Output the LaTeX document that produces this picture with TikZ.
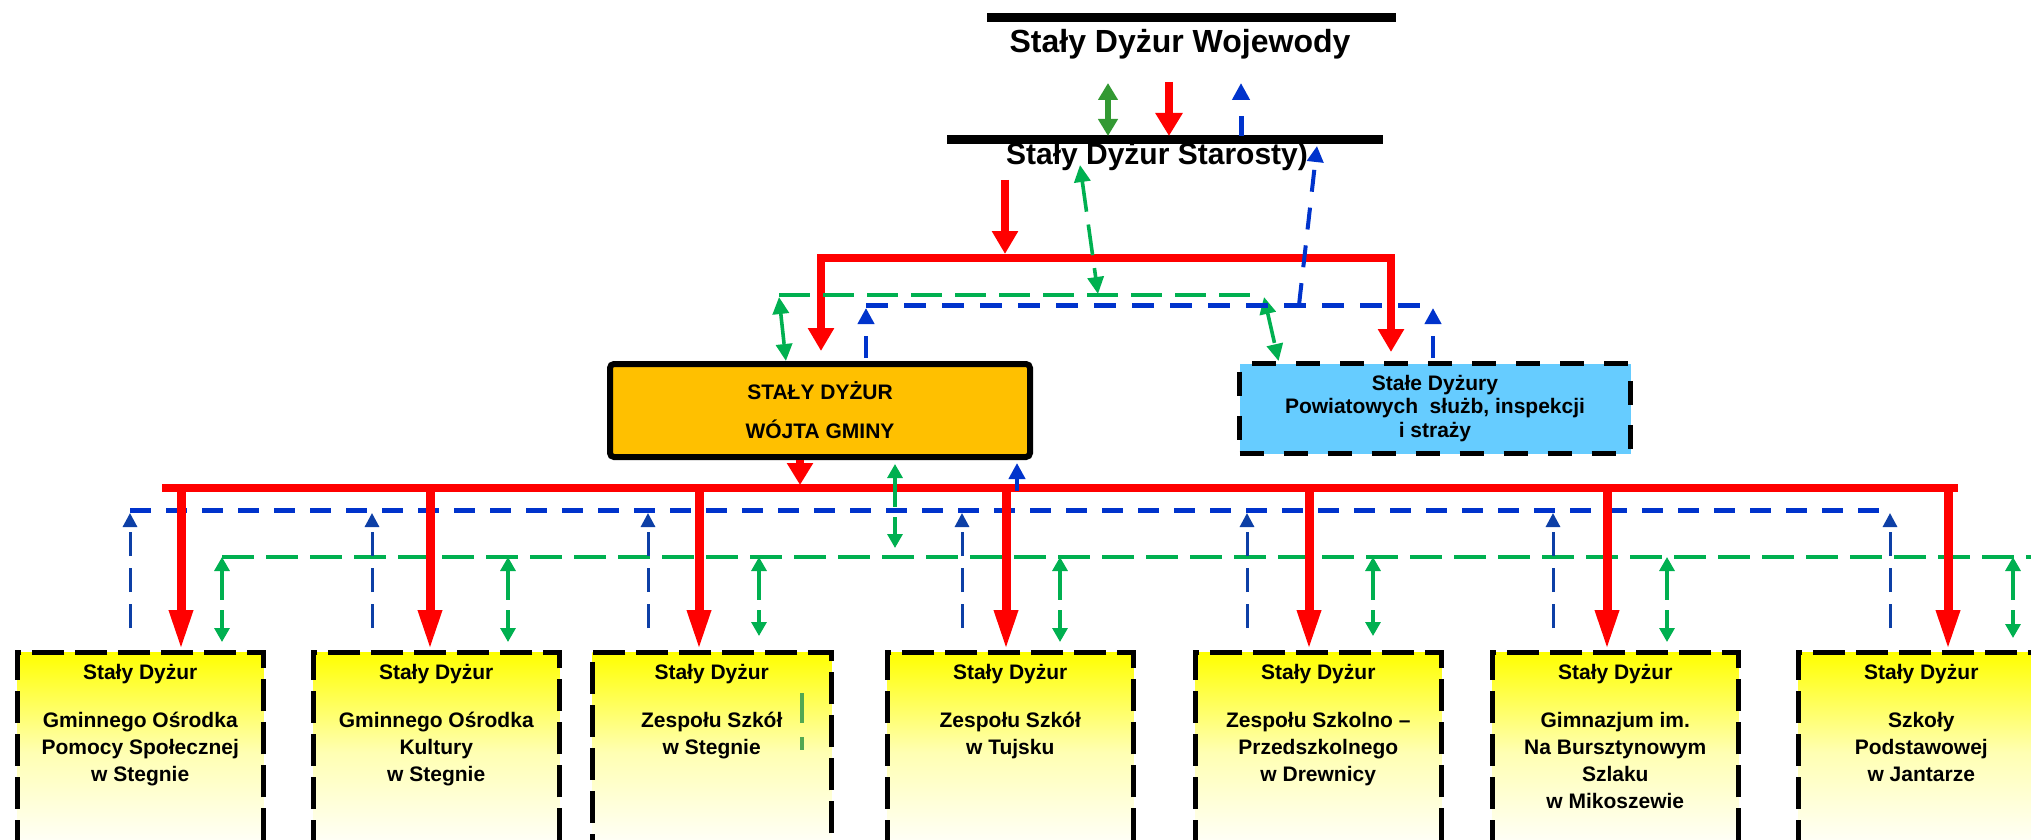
\documentclass[tikz,border=0pt]{standalone}
\usepackage{fontspec}
\setmainfont{Liberation Sans}
\usepackage{tikz}
\usetikzlibrary{
    arrows.meta,
    calc,
    positioning
}
\definecolor{rline}{HTML}{FF0000}
\definecolor{gline}{HTML}{00B050}
\definecolor{gdark}{HTML}{339933}
\definecolor{bline}{HTML}{0033CC}
\definecolor{bdark}{HTML}{0D3FA6}
\definecolor{wfill}{HTML}{FFC000}
\definecolor{pfill}{HTML}{66CCFF}
\tikzset{
    bar/.style={line width=4.5pt},
    head/.style={anchor=base, inner sep=0pt, font=\fontsize{16pt}{19pt}\selectfont\bfseries},
    txt/.style={align=center, inner sep=0pt, font=\fontsize{10.5pt}{13.5pt}\selectfont\bfseries},
    unit/.style={draw, line width=2.25pt, dash pattern=on 16pt off 5.5pt,
        top color=yellow, bottom color=white, middle color=yellow!30,
        anchor=north west, minimum width=123pt, minimum height=100pt},
    redarr/.style={draw=rline, line width=4.5pt, -{Triangle[length=20pt, width=11pt]}},
    redmid/.style={draw=rline, line width=4pt, -{Triangle[length=11.5pt, width=12.5pt]}},
    bluebus/.style={draw=bline, line width=2.5pt, dash pattern=on 10.5pt off 7.5pt},
    bluemid/.style={draw=bline, line width=2pt, dash pattern=on 11pt off 8pt, -{Triangle[length=8pt, width=8pt]}},
    bluearr/.style={draw=bdark, line width=1.5pt, dash pattern=on 12pt off 6pt,
        shorten <=11pt, shorten >=1.5pt, -{Triangle[length=7pt, width=7pt]}},
    greenbus/.style={draw=gline, line width=1.7pt, dash pattern=on 16pt off 6pt},
    greenmid/.style={draw=gline, line width=1.8pt, dash pattern=on 15.5pt off 6.5pt,
        {Triangle[length=8.5pt, width=8pt]}-{Triangle[length=8.5pt, width=8pt]}},
    greenarr/.style={draw=gline, line width=1.6pt, dash pattern=on 15pt off 5pt, shorten >=4pt,
        {Triangle[length=7pt, width=7.5pt]}-{Triangle[length=7pt, width=7.5pt]}}
}
\begin{document}
\begin{tikzpicture}[x=0.5pt, y=-0.5pt]
\clip (0,0) rectangle (2031,840);
% wojewoda and starosta
\draw[bar] (987,18) -- (1396,18);
\node[head] (woj) at (1180,53) {Stały Dyżur Wojewody};
\draw[bar] (947,140) -- (1383,140);
\node[head, font=\fontsize{15pt}{18pt}\selectfont\bfseries] (star) at (1157,164) {Stały Dyżur Starosty)};
\coordinate (gw) at (1108,83);
\coordinate (rw) at (1169,82);
\coordinate (bw) at (1241,83);
\coordinate (sb) at (0,136);
\draw[draw=gdark, line width=3pt, {Triangle[length=8.5pt, width=9.5pt]}-{Triangle[length=8.5pt, width=9.5pt]}] (gw) -- (gw |- sb);
\draw[redmid, -{Triangle[length=11.5pt, width=13pt]}] (rw) -- (rw |- sb);
\draw[draw=bline, line width=2.5pt, dash pattern=on 10pt off 8.5pt, -{Triangle[length=8.5pt, width=8.5pt]}] (bw |- sb) -- (bw);

% gmina and powiat
\node[draw, line width=3pt, rounded corners=2pt, fill=wfill, minimum width=210pt, minimum height=46.5pt,
    align=center, font=\fontsize{10.5pt}{19.5pt}\selectfont\bfseries] (wojt) at (820,410.5) {STAŁY DYŻUR\\WÓJTA GMINY};
\node[draw, line width=2.5pt, dash pattern=on 12pt off 10pt, fill=pfill, minimum width=195.5pt, minimum height=45pt,
    align=center, font=\fontsize{10.5pt}{11.75pt}\selectfont\bfseries] (powiat) at (1435,408.5) {Stałe Dyżury\\Powiatowych\ \ służb, inspekcji\\i straży};
\coordinate (rs) at (1005,180);
\coordinate (rl) at (821,258);
\coordinate (rr) at (1391,258);
\draw[redmid, shorten >=2pt] (rs) -- (rs |- rl);
\draw[redmid, {Triangle[length=11.5pt, width=12.5pt]}-{Triangle[length=11.5pt, width=12.5pt]}, shorten <=5pt, shorten >=4.5pt]
    (wojt.north -| rl) -- (rl) -- (rr) -- (powiat.north -| rr);
\coordinate (gs) at (1080,165);
\coordinate (gj) at (1098,294);
\coordinate (gl) at (779,295);
\coordinate (gr) at (1252,295);
\draw[greenbus, line width=2pt, dash pattern=on 15.5pt off 6.5pt] (gl) -- (gr);
\draw[greenmid] (gs) -- (gj);
\draw[greenmid] ([yshift=-1pt]gl) -- ($(wojt.north west)!0.42!(wojt.north east)$);
\draw[greenmid] ([shift={(12,2)}]gr) -- ($(powiat.north west)!0.105!(powiat.north east)$);
\coordinate (bs) at (1317,146);
\coordinate (bj) at (1299,305);
\coordinate (bl) at (866,305);
\coordinate (br) at (1433,305);
\draw[bluebus, dash pattern=on 11pt off 8pt] (bl) -- (br);
\draw[bluemid] (bj) -- (bs);
\draw[bluemid, shorten <=1.5pt, shorten >=1.5pt] (wojt.north -| bl) -- (bl);
\draw[bluemid, shorten <=1.5pt, shorten >=1.5pt] (powiat.north -| br) -- (br);

% buses to the units
\coordinate (ub1) at (130,510);
\coordinate (ub2) at (1890,510);
\coordinate (gb1) at (222,557);
\coordinate (gb2) at (2035,557);
\coordinate (rb1) at (162,488);
\coordinate (rb2) at (1958,488);
\draw[bluebus] (ub1) -- (ub2);
\draw[greenbus] (gb1) -- (gb2);
\draw[draw=rline, line width=4pt] (rb1) -- (rb2);
\coordinate (r0) at (800,488);
\coordinate (g0) at (895,557);
\coordinate (u0) at (1017,491);
\draw[redmid, -{Triangle[length=11pt, width=12.5pt]}, shorten >=1.5pt] (wojt.south -| r0) -- (r0);
\draw[greenarr, shorten <=2pt, shorten >=4.5pt] (wojt.south -| g0) -- (g0);
\draw[bluemid, shorten >=1.5pt] (u0) -- (wojt.south -| u0);

% units
\node[unit] (b1) at (15,650) {};
\node[unit] (b2) at (311,650) {};
\node[unit, minimum width=119.5pt] (b3) at (590,650) {};
\node[unit] (b4) at (885,650) {};
\node[unit] (b5) at (1193,650) {};
\node[unit] (b6) at (1490,650) {};
\node[unit] (b7) at (1796,650) {};
\node[txt, below=7pt of b1.north] (t1) {Stały Dyżur\\[10.5pt]Gminnego Ośrodka\\Pomocy Społecznej\\w Stegnie};
\node[txt, below=7pt of b2.north] (t2) {Stały Dyżur\\[10.5pt]Gminnego Ośrodka\\Kultury\\w Stegnie};
\node[txt, below=7pt of b3.north] (t3) {Stały Dyżur\\[10.5pt]Zespołu Szkół\\w Stegnie};
\node[txt, below=7pt of b4.north] (t4) {Stały Dyżur\\[10.5pt]Zespołu Szkół\\w Tujsku};
\node[txt, below=7pt of b5.north] (t5) {Stały Dyżur\\[10.5pt]Zespołu Szkolno –\\Przedszkolnego\\w Drewnicy};
\node[txt, below=7pt of b6.north] (t6) {Stały Dyżur\\[10.5pt]Gimnazjum im.\\Na Bursztynowym\\Szlaku\\w Mikoszewie};
\node[txt, below=7pt of b7.north] (t7) {Stały Dyżur\\[10.5pt]Szkoły\\Podstawowej\\w Jantarze};
\draw[draw=gdark!85, line width=2pt, dash pattern=on 15pt off 7pt] (802,693) -- (802,750);

\coordinate (u1) at (130,510);
\coordinate (u2) at (372,510);
\coordinate (u3) at (648,510);
\coordinate (u4) at (962,510);
\coordinate (u5) at (1247,510);
\coordinate (u6) at (1553,510);
\coordinate (u7) at (1890,510);
\draw[bluearr] (b1.north -| u1) -- (u1);
\draw[bluearr] (b2.north -| u2) -- (u2);
\draw[bluearr] (b3.north -| u3) -- (u3);
\draw[bluearr] (b4.north -| u4) -- (u4);
\draw[bluearr] (b5.north -| u5) -- (u5);
\draw[bluearr] (b6.north -| u6) -- (u6);
\draw[bluearr] (b7.north -| u7) -- (u7);

\coordinate (g1) at (222,557);
\coordinate (g2) at (508,557);
\coordinate (g3) at (759,557);
\coordinate (g4) at (1060,557);
\coordinate (g5) at (1373,557);
\coordinate (g6) at (1667,557);
\coordinate (g7) at (2013,557);
\draw[greenarr] (g1) -- (g1 |- b1.north);
\draw[greenarr] (g2) -- (g2 |- b2.north);
\draw[greenarr, shorten >=7pt] (g3) -- (g3 |- b3.north);
\draw[greenarr] (g4) -- (g4 |- b4.north);
\draw[greenarr, shorten >=7pt] (g5) -- (g5 |- b5.north);
\draw[greenarr] (g6) -- (g6 |- b6.north);
\draw[greenarr, shorten >=6pt] (g7) -- (g7 |- b7.north);

\coordinate (r1) at (181,488);
\coordinate (r2) at (430,488);
\coordinate (r3) at (699,488);
\coordinate (r4) at (1006,488);
\coordinate (r5) at (1309,488);
\coordinate (r6) at (1607,488);
\coordinate (r7) at (1948,488);
\draw[redarr] (r1) -- (r1 |- b1.north);
\draw[redarr] (r2) -- (r2 |- b2.north);
\draw[redarr] (r3) -- (r3 |- b3.north);
\draw[redarr] (r4) -- (r4 |- b4.north);
\draw[redarr] (r5) -- (r5 |- b5.north);
\draw[redarr] (r6) -- (r6 |- b6.north);
\draw[redarr] (r7) -- (r7 |- b7.north);
\end{tikzpicture}
\end{document}
